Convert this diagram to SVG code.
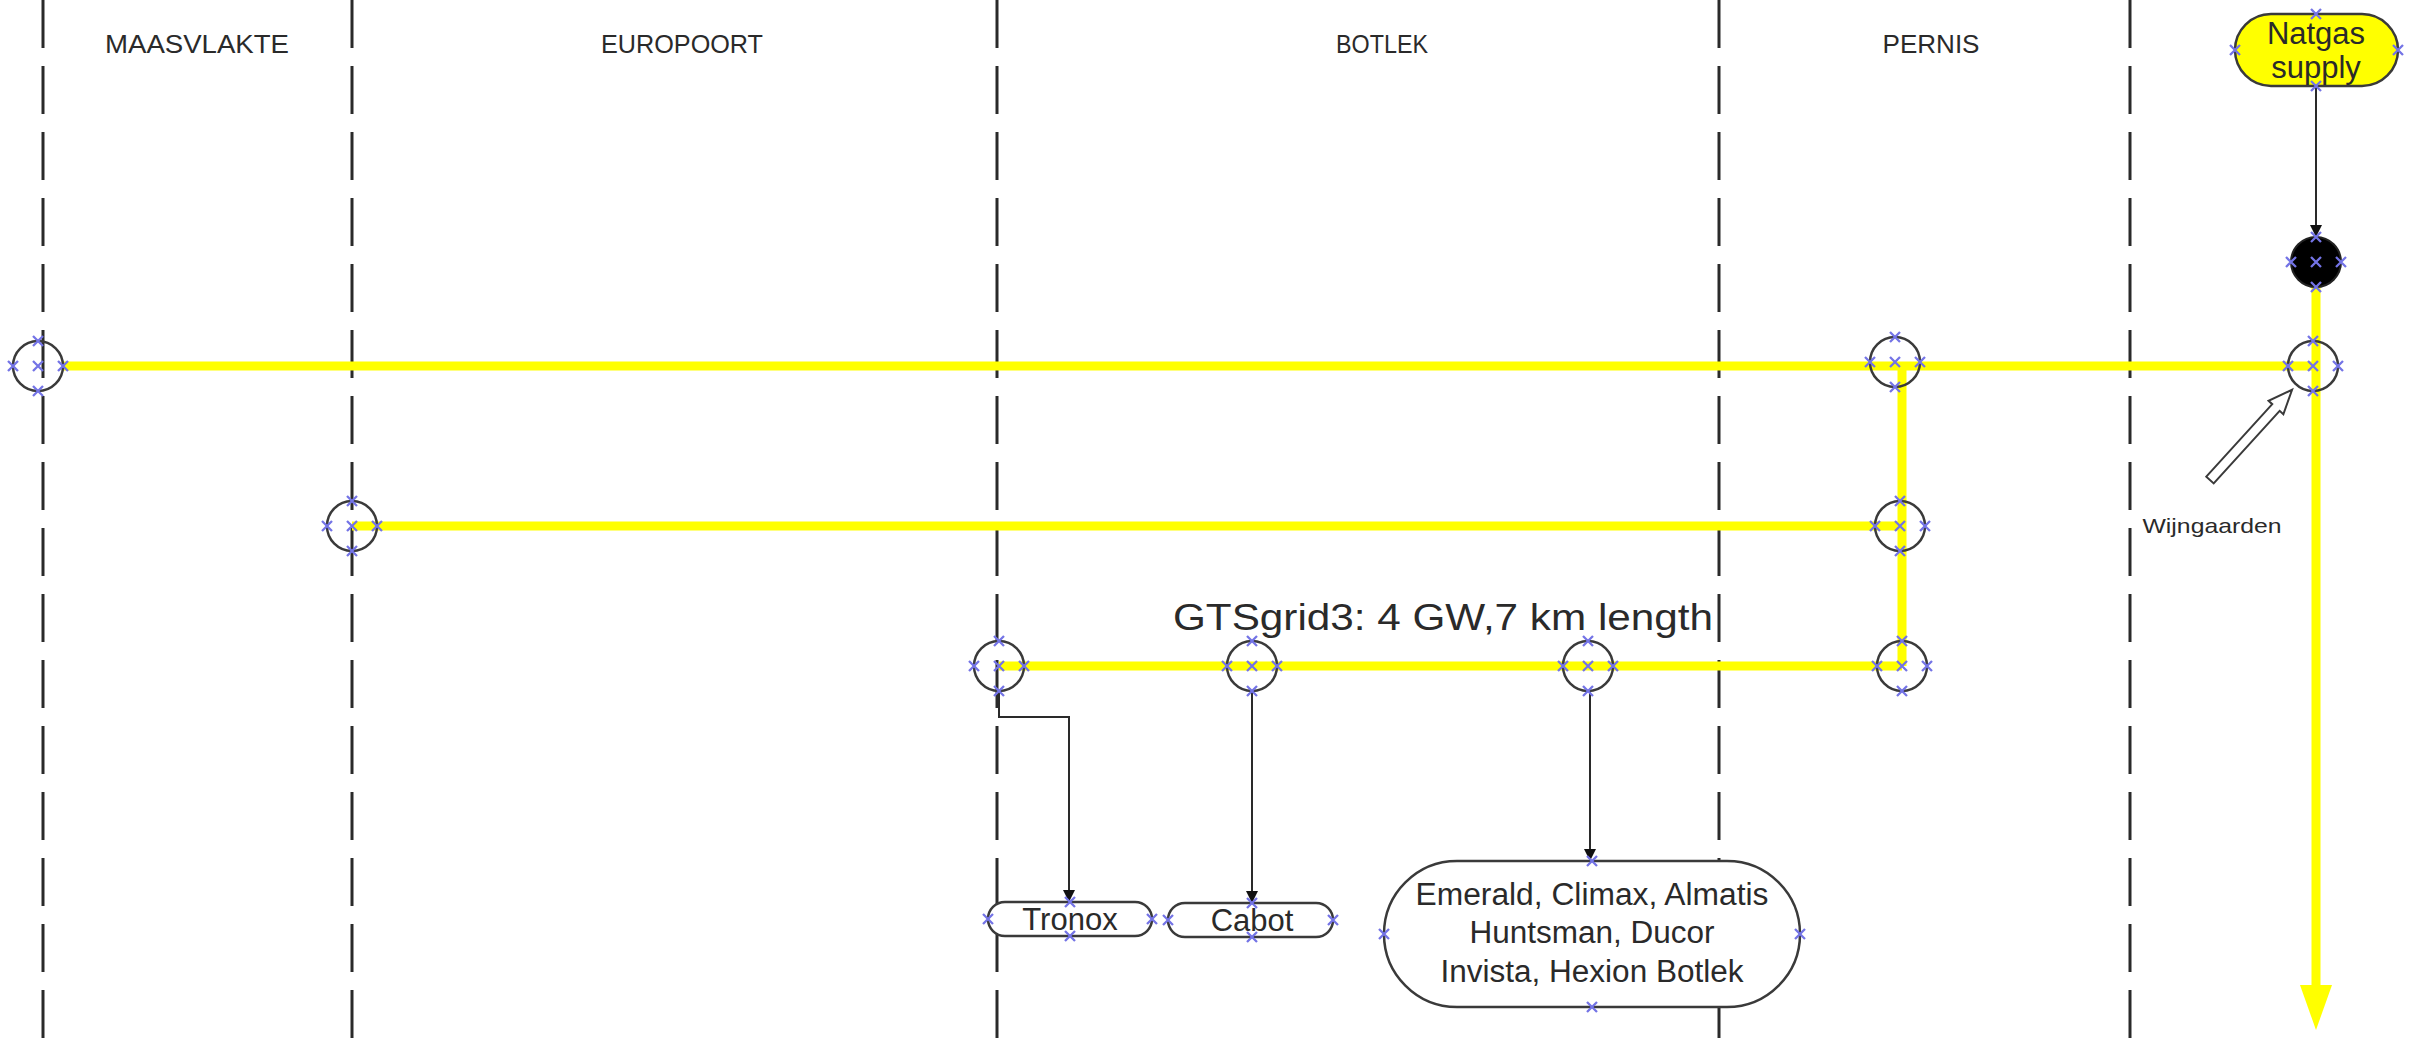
<svg xmlns="http://www.w3.org/2000/svg" xmlns:xlink="http://www.w3.org/1999/xlink" width="2413" height="1053" viewBox="0 0 2413 1053">
<style>
.zone{stroke:#2a2a2a;stroke-width:3;stroke-dasharray:48 18;fill:none}
.lbl{font-family:"Liberation Sans",Arial,sans-serif;fill:#2a2a2a;text-anchor:middle}
.pipe{stroke:#ffff00;stroke-width:9;fill:none}
.hub{fill:none;stroke:#3a3a3a;stroke-width:2.5}
.box{fill:#ffffff;stroke:#3a3a3a;stroke-width:2.5}
.con{stroke:#2a2a2a;stroke-width:2;fill:none}
.cp{stroke:#7474e6;stroke-width:2.3;fill:none}
</style>
<defs>
<path id="cx" d="M-5,-5 L5,5 M-5,5 L5,-5" class="cp"/>
<marker id="ah" viewBox="0 0 10 10" refX="10" refY="5" markerWidth="12" markerHeight="12" markerUnits="userSpaceOnUse" orient="auto"><path d="M0,0 L10,5 L0,10 z" fill="#111"/></marker>
</defs>

<g id="zones">
<line class="zone" x1="43" y1="0" x2="43" y2="1053"/>
<line class="zone" x1="352" y1="0" x2="352" y2="1053"/>
<line class="zone" x1="997" y1="0" x2="997" y2="1053"/>
<line class="zone" x1="1719" y1="0" x2="1719" y2="1053"/>
<line class="zone" x1="2130" y1="0" x2="2130" y2="1053"/>
<text class="lbl" x="197" y="53" font-size="26" textLength="184" lengthAdjust="spacingAndGlyphs">MAASVLAKTE</text>
<text class="lbl" x="682" y="53" font-size="26" textLength="162" lengthAdjust="spacingAndGlyphs">EUROPOORT</text>
<text class="lbl" x="1382" y="53" font-size="26" textLength="92" lengthAdjust="spacingAndGlyphs">BOTLEK</text>
<text class="lbl" x="1931" y="53" font-size="26" textLength="97" lengthAdjust="spacingAndGlyphs">PERNIS</text>
</g>

<g id="connectors">
<line class="pipe" x1="63" y1="366" x2="2313" y2="366"/>
<line class="pipe" x1="352" y1="526" x2="1902" y2="526"/>
<line class="pipe" x1="999" y1="666" x2="1902" y2="666"/>
<line class="pipe" x1="1902" y1="366" x2="1902" y2="666"/>
<line class="pipe" x1="2316" y1="285" x2="2316" y2="990"/>
<polygon points="2300,985 2332,985 2316,1030" fill="#ffff00"/>
<line class="con" x1="2316" y1="86" x2="2316" y2="237" marker-end="url(#ah)"/>
<polyline class="con" points="999,691 999,717 1069,717 1069,902" marker-end="url(#ah)"/>
<line class="con" x1="1252" y1="691" x2="1252" y2="903" marker-end="url(#ah)"/>
<line class="con" x1="1590" y1="691" x2="1590" y2="861" marker-end="url(#ah)"/>
<polygon points="0,-5 98,-5 98,-10 122,0 98,10 98,5 0,5" fill="#fff" stroke="#3a3a3a" stroke-width="2" transform="translate(2210,480) rotate(-47.7)"/>
</g>

<g id="hub-maasvlakte"><circle class="hub" cx="38" cy="366" r="25"/></g>
<g id="hub-pernis1"><circle class="hub" cx="1895" cy="362" r="25"/></g>
<g id="hub-wijngaarden"><circle class="hub" cx="2313" cy="366" r="25"/></g>
<g id="hub-europoort"><circle class="hub" cx="352" cy="526" r="25"/></g>
<g id="hub-pernis2"><circle class="hub" cx="1900" cy="526" r="25"/></g>
<g id="hub-botlek1"><circle class="hub" cx="999" cy="666" r="25"/></g>
<g id="hub-botlek2"><circle class="hub" cx="1252" cy="666" r="25"/></g>
<g id="hub-botlek3"><circle class="hub" cx="1588" cy="666" r="25"/></g>
<g id="hub-pernis3"><circle class="hub" cx="1902" cy="666" r="25"/></g>
<g id="junction"><circle cx="2316" cy="262" r="25" fill="#000" stroke="#222" stroke-width="2"/></g>

<g id="natgas">
<rect class="box" x="2235" y="14" width="163" height="72" rx="36" style="fill:#ffff00"/>
<text class="lbl" x="2316" y="44" font-size="31">Natgas</text>
<text class="lbl" x="2316" y="78" font-size="31">supply</text>
</g>

<g id="tronox">
<rect class="box" x="988" y="902" width="164" height="34" rx="17"/>
<text class="lbl" x="1070" y="930" font-size="31">Tronox</text>
</g>
<g id="cabot">
<rect class="box" x="1168" y="903" width="165" height="34" rx="17"/>
<text class="lbl" x="1252" y="931" font-size="31">Cabot</text>
</g>
<g id="cluster">
<rect class="box" x="1384" y="861" width="416" height="146" rx="73"/>
<text class="lbl" x="1592" y="905" font-size="31" textLength="353" lengthAdjust="spacingAndGlyphs">Emerald, Climax, Almatis</text>
<text class="lbl" x="1592" y="943" font-size="31" textLength="245" lengthAdjust="spacingAndGlyphs">Huntsman, Ducor</text>
<text class="lbl" x="1592" y="982" font-size="31" textLength="303" lengthAdjust="spacingAndGlyphs">Invista, Hexion Botlek</text>
</g>

<g id="labels">
<text class="lbl" x="1443" y="630" font-size="36" textLength="540" lengthAdjust="spacingAndGlyphs">GTSgrid3: 4 GW,7 km length</text>
<text class="lbl" x="2212" y="533" font-size="21" textLength="139" lengthAdjust="spacingAndGlyphs">Wijngaarden</text>
</g>

<g id="connection-points">
<use href="#cx" x="38" y="366"/><use href="#cx" x="38" y="341"/><use href="#cx" x="38" y="391"/><use href="#cx" x="13" y="366"/><use href="#cx" x="63" y="366"/>
<use href="#cx" x="1895" y="362"/><use href="#cx" x="1895" y="337"/><use href="#cx" x="1895" y="387"/><use href="#cx" x="1870" y="362"/><use href="#cx" x="1920" y="362"/>
<use href="#cx" x="2313" y="366"/><use href="#cx" x="2313" y="341"/><use href="#cx" x="2313" y="391"/><use href="#cx" x="2288" y="366"/><use href="#cx" x="2338" y="366"/>
<use href="#cx" x="352" y="526"/><use href="#cx" x="352" y="501"/><use href="#cx" x="352" y="551"/><use href="#cx" x="327" y="526"/><use href="#cx" x="377" y="526"/>
<use href="#cx" x="1900" y="526"/><use href="#cx" x="1900" y="501"/><use href="#cx" x="1900" y="551"/><use href="#cx" x="1875" y="526"/><use href="#cx" x="1925" y="526"/>
<use href="#cx" x="999" y="666"/><use href="#cx" x="999" y="641"/><use href="#cx" x="999" y="691"/><use href="#cx" x="974" y="666"/><use href="#cx" x="1024" y="666"/>
<use href="#cx" x="1252" y="666"/><use href="#cx" x="1252" y="641"/><use href="#cx" x="1252" y="691"/><use href="#cx" x="1227" y="666"/><use href="#cx" x="1277" y="666"/>
<use href="#cx" x="1588" y="666"/><use href="#cx" x="1588" y="641"/><use href="#cx" x="1588" y="691"/><use href="#cx" x="1563" y="666"/><use href="#cx" x="1613" y="666"/>
<use href="#cx" x="1902" y="666"/><use href="#cx" x="1902" y="641"/><use href="#cx" x="1902" y="691"/><use href="#cx" x="1877" y="666"/><use href="#cx" x="1927" y="666"/>
<use href="#cx" x="2316" y="262"/><use href="#cx" x="2316" y="237"/><use href="#cx" x="2316" y="287"/><use href="#cx" x="2291" y="262"/><use href="#cx" x="2341" y="262"/>
<use href="#cx" x="2316" y="14"/><use href="#cx" x="2316" y="86"/><use href="#cx" x="2235" y="50"/><use href="#cx" x="2398" y="50"/>
<use href="#cx" x="1070" y="902"/><use href="#cx" x="1070" y="936"/><use href="#cx" x="988" y="919"/><use href="#cx" x="1152" y="919"/>
<use href="#cx" x="1252" y="903"/><use href="#cx" x="1252" y="937"/><use href="#cx" x="1168" y="920"/><use href="#cx" x="1333" y="920"/>
<use href="#cx" x="1592" y="861"/><use href="#cx" x="1592" y="1007"/><use href="#cx" x="1384" y="934"/><use href="#cx" x="1800" y="934"/>
</g>
</svg>
